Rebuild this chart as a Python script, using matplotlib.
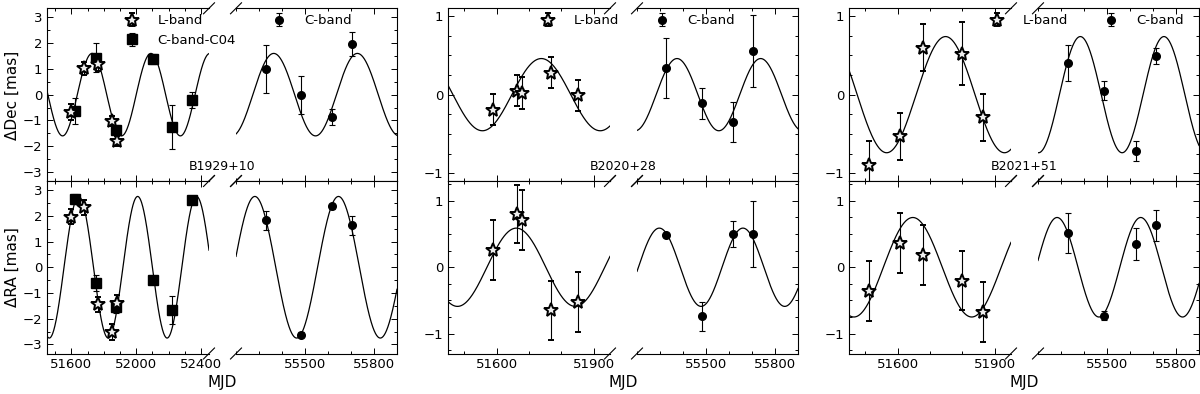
import numpy as np
import matplotlib
matplotlib.use("Agg")
import matplotlib.pyplot as plt
from matplotlib.ticker import FixedLocator, MultipleLocator

# ---------------- data ----------------
names = ["B1929+10", "B2020+28", "B2021+51"]

# B1929+10
b1929_L_mjd = [51598, 51678, 51765, 51851, 51882]
b1929_L_dec = [-0.67, 1.02, 1.17, -1.01, -1.80]
b1929_L_dec_err = [0.30, 0.25, 0.25, 0.20, 0.20]
b1929_L_ra = [1.97, 2.33, -1.44, -2.52, -1.37]
b1929_L_ra_err = [0.30, 0.30, 0.30, 0.30, 0.30]
b1929_C04_mjd = [51623, 51750, 51874, 52106, 52223, 52347]
b1929_C04_dec = [-0.63, 1.44, -1.38, 1.39, -1.25, -0.21]
b1929_C04_dec_err = [0.50, 0.55, 0.20, 0.20, 0.85, 0.30]
b1929_C04_ra = [2.65, -0.61, -1.56, -0.50, -1.65, 2.62]
b1929_C04_ra_err = [0.20, 0.30, 0.20, 0.10, 0.55, 0.10]
b1929_C_mjd = [55329, 55483, 55619, 55706]
b1929_C_dec = [0.98, -0.02, -0.86, 1.96]
b1929_C_dec_err = [0.93, 0.75, 0.30, 0.47]
b1929_C_ra = [1.82, -2.62, 2.37, 1.63]
b1929_C_ra_err = [0.37, 0.10, 0.10, 0.38]

# B2020+28
b2020_L_mjd = [51590, 51662, 51679, 51769, 51852]
b2020_L_dec = [-0.19, 0.05, 0.02, 0.28, -0.01]
b2020_L_dec_err = [0.20, 0.20, 0.20, 0.20, 0.20]
b2020_L_ra = [0.26, 0.80, 0.71, -0.65, -0.52]
b2020_L_ra_err = [0.45, 0.44, 0.45, 0.45, 0.45]
b2020_C_mjd = [55326, 55481, 55616, 55705]
b2020_C_dec = [0.34, -0.11, -0.35, 0.56]
b2020_C_dec_err = [0.38, 0.20, 0.25, 0.46]
b2020_C_ra = [0.49, -0.74, 0.50, 0.50]
b2020_C_ra_err = [0.03, 0.22, 0.20, 0.50]

# B2021+51
b2021_L_mjd = [51512, 51607, 51679, 51799, 51865]
b2021_L_dec = [-0.89, -0.53, 0.60, 0.52, -0.29]
b2021_L_dec_err = [0.30, 0.30, 0.30, 0.40, 0.30]
b2021_L_ra = [-0.36, 0.37, 0.18, -0.20, -0.67]
b2021_L_ra_err = [0.45, 0.45, 0.45, 0.45, 0.45]
b2021_C_mjd = [55332, 55486, 55624, 55711]
b2021_C_dec = [0.40, 0.05, -0.72, 0.49]
b2021_C_dec_err = [0.23, 0.12, 0.13, 0.10]
b2021_C_ra = [0.52, -0.73, 0.35, 0.63]
b2021_C_ra_err = [0.30, 0.07, 0.24, 0.23]

# parallax models:
# amplitude [mas], epoch of maximum [MJD], period [d]
model_period = 363.6
dec_amp = [1.60, 0.46, 0.74]
dec_tpeak = [55364, 55374, 55384]
ra_amp = [2.75, 0.59, 0.75]
ra_tpeak = [55282, 55297, 55283]

left_xlim = [(51450, 52450), (51450, 51950), (51450, 51950)]
right_xlim = (55200, 55900)
left_xticks = [[51600, 52000, 52400], [51600, 51900], [51600, 51900]]
right_xticks = [55500, 55800]
ylims = [3.35, 1.1, 1.1]
ylims_ra = [3.35, 1.3, 1.3]
yticks = [[-3, -2, -1, 0, 1, 2, 3], [-1, 0, 1], [-1, 0, 1]]

pulsars = [
    dict(L=(b1929_L_mjd, b1929_L_dec, b1929_L_dec_err, b1929_L_ra, b1929_L_ra_err),
         C=(b1929_C_mjd, b1929_C_dec, b1929_C_dec_err, b1929_C_ra, b1929_C_ra_err),
         C04=(b1929_C04_mjd, b1929_C04_dec, b1929_C04_dec_err, b1929_C04_ra, b1929_C04_ra_err)),
    dict(L=(b2020_L_mjd, b2020_L_dec, b2020_L_dec_err, b2020_L_ra, b2020_L_ra_err),
         C=(b2020_C_mjd, b2020_C_dec, b2020_C_dec_err, b2020_C_ra, b2020_C_ra_err)),
    dict(L=(b2021_L_mjd, b2021_L_dec, b2021_L_dec_err, b2021_L_ra, b2021_L_ra_err),
         C=(b2021_C_mjd, b2021_C_dec, b2021_C_dec_err, b2021_C_ra, b2021_C_ra_err)),
]

# ---------------- figure ----------------
W, H = 1200, 394
plt.rcParams['font.family'] = ['DejaVu Sans']
fig = plt.figure(figsize=(W / 100, H / 100), dpi=100)


def fx(px):
    return px / W


def fy(py):
    return 1 - py / H


panel_left = [47, 448, 849]
sub_w = 162
gap = 27
rows = [(8.3, 181.0), (181.0, 353.5)]

TICKFS = 9.5
err_kw = dict(ecolor='black', elinewidth=0.8, capsize=2.2, capthick=0.8)
star_kw = dict(fmt='*', ms=10.5, mfc='0.93', mec='black', mew=1.4, color='black')
sq_kw = dict(fmt='s', ms=7, mfc='black', mec='black', color='black')
dot_kw = dict(fmt='o', ms=5.5, mfc='black', mec='black', color='black')


def model(t, amp, tpeak):
    return amp * np.cos(2 * np.pi * (np.asarray(t) - tpeak) / model_period)


def diag(ax, side, wpx, hpx):
    dx = 5.5 / wpx
    dy = 5.5 / hpx
    x0 = 1.0 if side == 'right' else 0.0
    for y0 in (0.0, 1.0):
        ax.plot([x0 - dx, x0 + dx], [y0 - dy, y0 + dy], transform=ax.transAxes,
                color='black', lw=0.8, clip_on=False, zorder=10)


for p in range(3):
    L0 = panel_left[p]
    d = pulsars[p]
    for r, (top, bot) in enumerate(rows):
        hpx = bot - top
        axL = fig.add_axes([fx(L0), fy(bot), sub_w / W, hpx / H])
        axR = fig.add_axes([fx(L0 + sub_w + gap), fy(bot), (350 - sub_w - gap) / W, hpx / H])
        idx_v, idx_e = (1, 2) if r == 0 else (3, 4)
        amp = dec_amp[p] if r == 0 else ra_amp[p]
        tp = dec_tpeak[p] if r == 0 else ra_tpeak[p]
        yl = ylims[p] if r == 0 else ylims_ra[p]

        # model curves
        tl = np.linspace(left_xlim[p][0], left_xlim[p][1], 600)
        axL.plot(tl, model(tl, amp, tp), color='black', lw=0.9, zorder=1)
        tr = np.linspace(right_xlim[0], right_xlim[1], 600)
        axR.plot(tr, model(tr, amp, tp), color='black', lw=0.9, zorder=1)

        # data
        hL = axL.errorbar(d['L'][0], d['L'][idx_v], yerr=d['L'][idx_e], zorder=4,
                          **star_kw, **err_kw)
        hC04 = None
        if 'C04' in d:
            hC04 = axL.errorbar(d['C04'][0], d['C04'][idx_v], yerr=d['C04'][idx_e], zorder=3,
                                **sq_kw, **err_kw)
        hC = axR.errorbar(d['C'][0], d['C'][idx_v], yerr=d['C'][idx_e], zorder=3,
                          **dot_kw, **err_kw)

        for ax in (axL, axR):
            ax.set_ylim(-yl, yl)
            ax.yaxis.set_major_locator(FixedLocator(yticks[p]))
            ax.yaxis.set_minor_locator(MultipleLocator(0.5 if p == 0 else 0.25))
            ax.xaxis.set_minor_locator(MultipleLocator(100))
            for s in ax.spines.values():
                s.set_linewidth(0.8)
            ax.tick_params(which='both', direction='in', top=True, bottom=True,
                           labelsize=TICKFS, width=0.7)
            ax.tick_params(which='major', length=4)
            ax.tick_params(which='minor', length=2.5)
            if r == 0:
                ax.tick_params(labelbottom=False)
        axL.set_xlim(*left_xlim[p])
        axR.set_xlim(*right_xlim)
        axL.xaxis.set_major_locator(FixedLocator(left_xticks[p]))
        axR.xaxis.set_major_locator(FixedLocator(right_xticks))
        axL.spines['right'].set_visible(False)
        axR.spines['left'].set_visible(False)
        axL.tick_params(which='both', left=True, right=False)
        axR.tick_params(which='both', left=False, right=True, labelleft=False)

        diag(axL, 'right', sub_w, hpx)
        diag(axR, 'left', 350 - sub_w - gap, hpx)

        if r == 0:
            if hC04 is not None:
                handles = [hL, hC04, hC]
                labels = ['L-band', 'C-band-C04', 'C-band']
            else:
                handles = [hL, hC]
                labels = ['L-band', 'C-band']
            hx = [119, 535, 984][p]
            fig.legend(handles, labels, loc='upper left', bbox_to_anchor=(fx(hx), fy(14.5)),
                       ncol=2, frameon=False, borderpad=0, borderaxespad=0,
                       fontsize=9.5, numpoints=1, columnspacing=2.3, handletextpad=0.9)

    cx = L0 + 175
    fig.text(fx(cx), fy(166), names[p], ha='center', va='center', fontsize=9)
    fig.text(fx(cx), fy(382), 'MJD', ha='center', va='center', fontsize=11)

fig.text(fx(12), fy(95), 'ΔDec [mas]', rotation=90, ha='center', va='center', fontsize=11)
fig.text(fx(12), fy(267), 'ΔRA [mas]', rotation=90, ha='center', va='center', fontsize=11)

fig.savefig('out.png', dpi=100)
